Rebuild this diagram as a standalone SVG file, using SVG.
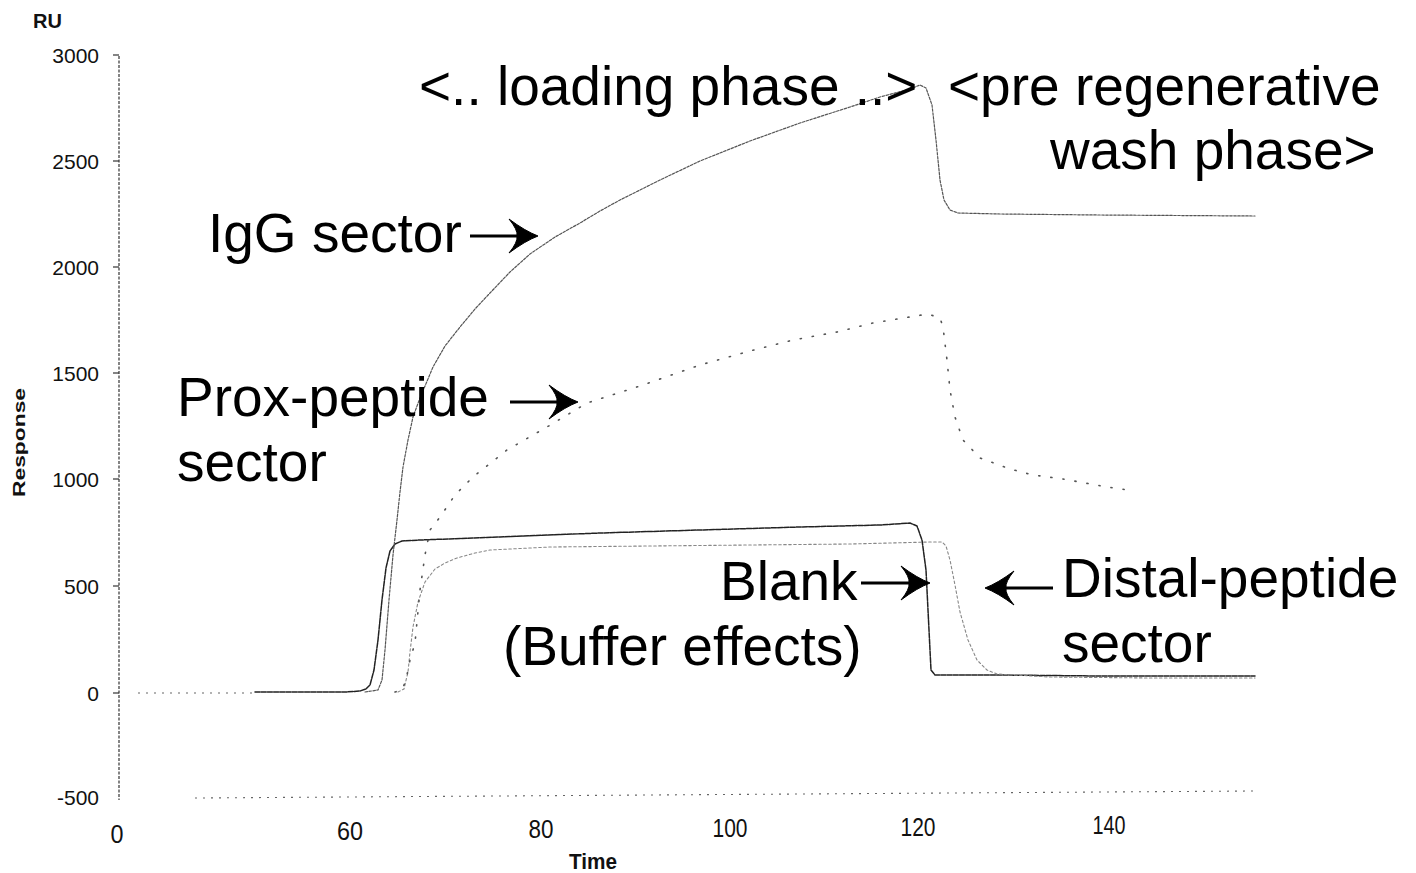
<svg xmlns="http://www.w3.org/2000/svg" width="1416" height="873" viewBox="0 0 1416 873">
  <style>
    .tick { font-family: "Liberation Sans", Arial, sans-serif; font-size: 21px; fill: #111; }
    .xtick { font-family: "Liberation Sans", Arial, sans-serif; font-size: 25px; fill: #111; text-anchor: middle; }
    .axt { font-family: "Liberation Sans", Arial, sans-serif; font-weight: bold; fill: #111; }
    .lbl { font-family: "Liberation Sans", Arial, sans-serif; font-size: 55px; fill: #000; }
    .axis { stroke: #333; stroke-width: 1.2; fill: none; stroke-dasharray: 3 1.5; }
    .grid { stroke: #666; stroke-width: 1.1; fill: none; stroke-dasharray: 2 6; }
    .curve { fill: none; stroke-linejoin: round; stroke-linecap: round; }
    .igg { stroke: #555; stroke-width: 1.2; stroke-dasharray: 2.5 1.5; }
    .blank { stroke: #222; stroke-width: 1.5; stroke-dasharray: 5 1.2; }
    .distal { stroke: #888; stroke-width: 1.1; stroke-dasharray: 2.5 2.5; }
    .prox { stroke: #555; stroke-width: 1.6; stroke-dasharray: 1.2 11; }
    .shaft { stroke: #000; stroke-width: 3; fill: none; }
  </style>
  <defs>
    <!-- swept arrowhead, tip at the origin, pointing along +x -->
    <path id="ah" d="M1,0 Q-12,-5 -28,-17 Q-19,-6 -20,0 Q-19,6 -28,17 Q-12,5 1,0 Z" fill="#000" stroke="#000" stroke-width="1"/>
  </defs>

  <rect width="1416" height="873" fill="#fff"/>

  <!-- axes -->
  <g id="axes">
    <line class="axis" x1="119" y1="56" x2="119" y2="800"/>
    <g stroke="#333" stroke-width="1.2">
      <line x1="113" y1="55" x2="119" y2="55"/>
      <line x1="113" y1="161" x2="119" y2="161"/>
      <line x1="113" y1="267" x2="119" y2="267"/>
      <line x1="113" y1="373" x2="119" y2="373"/>
      <line x1="113" y1="479" x2="119" y2="479"/>
      <line x1="113" y1="586" x2="119" y2="586"/>
      <line x1="113" y1="693" x2="119" y2="693"/>
    </g>
    <!-- zero and -500 reference lines -->
    <line class="grid" x1="138" y1="693" x2="256" y2="693"/>
    <polyline class="grid" points="195,798 1255,791"/>
    <text class="axt" x="33" y="28" font-size="20" font-weight="normal">RU</text>
    <g class="tick" text-anchor="end">
      <text x="99" y="63">3000</text>
      <text x="99" y="169">2500</text>
      <text x="99" y="275">2000</text>
      <text x="99" y="381">1500</text>
      <text x="99" y="487">1000</text>
      <text x="99" y="594">500</text>
      <text x="99" y="701">0</text>
      <text x="99" y="805">-500</text>
    </g>
    <text class="axt" font-size="17" transform="translate(25,497) rotate(-90)" textLength="109" lengthAdjust="spacingAndGlyphs">Response</text>
    <text class="xtick" x="117" y="843" textLength="13" lengthAdjust="spacingAndGlyphs">0</text>
    <text class="xtick" x="350" y="840" textLength="26" lengthAdjust="spacingAndGlyphs">60</text>
    <text class="xtick" x="541" y="838" textLength="25" lengthAdjust="spacingAndGlyphs">80</text>
    <text class="xtick" x="730" y="837" textLength="35" lengthAdjust="spacingAndGlyphs">100</text>
    <text class="xtick" x="918" y="836" textLength="35" lengthAdjust="spacingAndGlyphs">120</text>
    <text class="xtick" x="1109" y="834" textLength="33" lengthAdjust="spacingAndGlyphs">140</text>
    <text class="axt" x="569" y="869" font-size="22" textLength="48" lengthAdjust="spacingAndGlyphs">Time</text>
  </g>

  <!-- sensorgram traces -->
  <g id="curves">
    <polyline id="curve-blank" class="curve blank" points="255,692 300,692 345,692 360,691 366,689 370,685 374,670 378,640 382,600 386,568 390,551 395,544 402,541 420,540 500,537 600,533 700,530 800,527 880,525 910,523 917,526 922,540 926,570 928,610 930,650 931,670 935,675 1000,675 1100,676 1255,676"/>
    <polyline id="curve-igg" class="curve igg" points="365,692 378,690 382,680 385,650 389,600 393,555 397,520 400,492 403,467 408,440 413,417 420,398 433,367 445,346 460,327 475,309 490,293 510,272 530,254 555,237 580,223 600,211 620,200 660,180 700,161 750,141 800,123 850,107 880,97 910,89 920,85 926,88 932,105 936,140 940,180 944,200 950,210 958,213 1000,214 1100,215 1255,216"/>
    <polyline id="curve-distal" class="curve distal" points="398,692 404,689 408,672 410,652 413,627 418,602 425,582 435,569 445,563 457,558 475,553 490,550 550,547 650,546 750,545 850,544 930,542 942,542 946,546 950,560 955,585 960,612 968,640 977,660 987,670 997,674 1050,677 1150,678 1255,678"/>
    <polyline id="curve-prox" class="curve prox" points="395,692 402,690 406,680 410,660 415,643 420,590 425,555 430,530 440,517 455,495 473,477 507,450 547,427 587,403 640,386 700,365 750,351 793,340 837,332 873,323 928,314 940,318 943,327 947,360 950,390 955,417 963,440 980,458 1010,469 1033,475 1063,479 1107,487 1135,491"/>
  </g>

  <!-- annotations -->
  <g id="label-loading"><text class="lbl" x="419" y="105">&lt;.. loading phase ..&gt;</text></g>
  <g id="label-wash">
    <text class="lbl" x="948" y="105">&lt;pre regenerative</text>
    <text class="lbl" x="1050" y="169">wash phase&gt;</text>
  </g>
  <g id="label-igg"><text class="lbl" x="208" y="252">IgG sector</text></g>
  <g id="label-prox">
    <text class="lbl" x="177" y="416">Prox-peptide</text>
    <text class="lbl" x="177" y="481">sector</text>
  </g>
  <g id="label-blank">
    <text class="lbl" x="720" y="600">Blank</text>
    <text class="lbl" x="503" y="665">(Buffer effects)</text>
  </g>
  <g id="label-distal">
    <text class="lbl" x="1062" y="597">Distal-peptide</text>
    <text class="lbl" x="1062" y="662">sector</text>
  </g>

  <!-- pointer arrows -->
  <g id="connectors">
    <line class="shaft" x1="470" y1="236" x2="520" y2="236"/>
    <use href="#ah" transform="translate(537,236)"/>
    <line class="shaft" x1="510" y1="402" x2="560" y2="402"/>
    <use href="#ah" transform="translate(577,402)"/>
    <line class="shaft" x1="861" y1="583" x2="912" y2="583"/>
    <use href="#ah" transform="translate(929,583)"/>
    <line class="shaft" x1="1053" y1="588" x2="1003" y2="588"/>
    <use href="#ah" transform="translate(986,588) rotate(180)"/>
  </g>
</svg>
